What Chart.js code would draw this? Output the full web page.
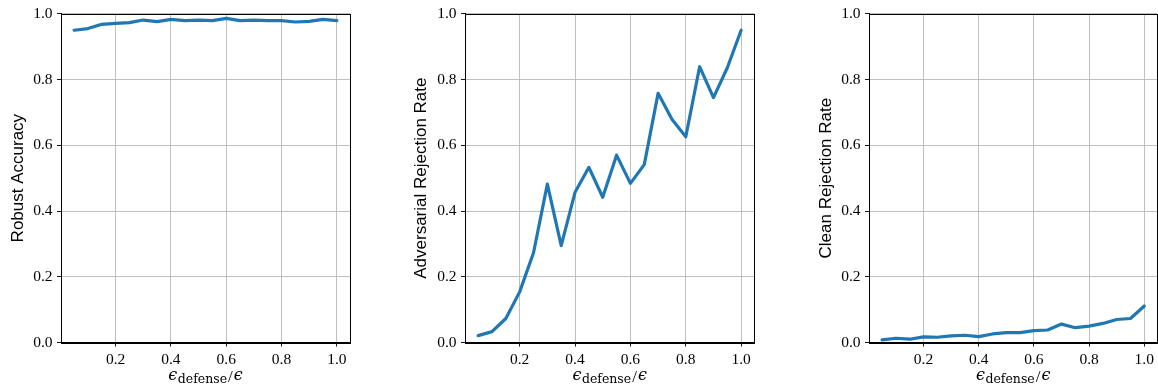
<!DOCTYPE html>
<html>
<head>
<meta charset="utf-8">
<script src="https://cdn.jsdelivr.net/npm/chart.js@4/dist/chart.umd.min.js"></script>
<style>
  html, body { margin: 0; padding: 0; background: #ffffff; }
  body { width: 1158px; height: 390px; position: relative; overflow: hidden; }
  .panel { position: absolute; top: 0; }
</style>
</head>
<body>
<div class="panel" style="left:0px"><canvas id="c1" width="360" height="390"></canvas></div>
<div class="panel" style="left:380px"><canvas id="c2" width="380" height="390"></canvas></div>
<div class="panel" style="left:780px"><canvas id="c3" width="378" height="390"></canvas></div>
<script>
// ---- data ----
const epsRatio = [0.05, 0.10, 0.15, 0.20, 0.25, 0.30, 0.35, 0.40, 0.45, 0.50,
                  0.55, 0.60, 0.65, 0.70, 0.75, 0.80, 0.85, 0.90, 0.95, 1.00];
const robustAccuracy = [0.950, 0.955, 0.968, 0.971, 0.973, 0.981, 0.976, 0.983, 0.979, 0.981,
                        0.979, 0.986, 0.979, 0.981, 0.979, 0.979, 0.975, 0.977, 0.983, 0.979];
const adversarialRejection = [0.021, 0.033, 0.073, 0.154, 0.273, 0.482, 0.295, 0.457, 0.533, 0.442,
                              0.570, 0.484, 0.541, 0.758, 0.679, 0.626, 0.839, 0.745, 0.836, 0.950];
const cleanRejection = [0.008, 0.013, 0.010, 0.017, 0.016, 0.020, 0.022, 0.018, 0.026, 0.030,
                        0.030, 0.036, 0.038, 0.056, 0.045, 0.050, 0.058, 0.070, 0.073, 0.111];
const xTickValues = [0.2, 0.4, 0.6, 0.8, 1.0];
const yTickValues = [0.0, 0.2, 0.4, 0.6, 0.8, 1.0];
const yLabels = ['Robust Accuracy', 'Adversarial Rejection Rate', 'Clean Rejection Rate'];

const LINE_COLOR = '#1f77b4';
const GRID_COLOR = '#b8b8b8';
const TICK_FONT = { family: "'Liberation Serif', 'DejaVu Serif', serif", size: 15.5 };

const boxAndLabels = {
  id: 'boxAndLabels',
  afterDraw(chart, args, opts) {
    const ctx = chart.ctx;
    const a = chart.chartArea;
    ctx.save();
    // spines
    ctx.strokeStyle = '#000000';
    ctx.lineWidth = 1;
    ctx.strokeRect(Math.round(a.left) + 0.5, Math.round(a.top) + 0.5,
                   Math.round(a.right - a.left), Math.round(a.bottom - a.top));
    // y label
    ctx.fillStyle = '#000000';
    ctx.font = "17px 'Liberation Sans', 'DejaVu Sans', sans-serif";
    ctx.textAlign = 'center';
    ctx.textBaseline = 'middle';
    ctx.translate(opts.yLabelX, (a.top + a.bottom) / 2);
    ctx.rotate(-Math.PI / 2);
    ctx.fillText(opts.yLabel, 0, 0);
    ctx.restore();

    // x label: eps_defense / eps
    ctx.save();
    ctx.fillStyle = '#000000';
    ctx.textBaseline = 'alphabetic';
    ctx.textAlign = 'left';
    const epsFont = "italic 16px 'DejaVu Serif', serif";
    const subFont = "12.5px 'DejaVu Serif', serif";
    const slashFont = "17px 'Liberation Serif', 'DejaVu Serif', serif";
    const eps = '\u03F5';
    ctx.font = epsFont; const wEps = ctx.measureText(eps).width;
    ctx.font = subFont; const wSub = ctx.measureText('defense').width;
    ctx.font = slashFont; const wSlash = ctx.measureText('/').width;
    const total = wEps + 0.5 + wSub + 1 + wSlash + 1 + wEps;
    let x = (a.left + a.right) / 2 - total / 2;
    const base = 379.5;
    ctx.font = epsFont; ctx.fillText(eps, x, base); x += wEps + 0.5;
    ctx.font = subFont; ctx.fillText('defense', x, base + 3.5); x += wSub + 1;
    ctx.font = slashFont; ctx.fillText('/', x, base + 2); x += wSlash + 1;
    ctx.font = epsFont; ctx.fillText(eps, x, base);
    ctx.restore();
  }
};

function makeChart(id, values, yLabel, yAxisWidth, rightPad, yLabelX) {
  return new Chart(document.getElementById(id), {
    type: 'line',
    data: {
      datasets: [{
        data: epsRatio.map((x, i) => ({ x: x, y: values[i] })),
        borderColor: LINE_COLOR,
        borderWidth: 3.2,
        pointRadius: 0,
        tension: 0,
        fill: false,
        borderJoinStyle: 'round',
        borderCapStyle: 'round'
      }]
    },
    options: {
      responsive: false,
      animation: false,
      events: [],
      layout: { padding: { top: 12.5, right: rightPad, bottom: 0, left: 0 } },
      plugins: {
        legend: { display: false },
        tooltip: { enabled: false },
        title: { display: false },
        boxAndLabels: { yLabel: yLabel, yLabelX: yLabelX }
      },
      scales: {
        x: {
          type: 'linear',
          min: 0.0025,
          max: 1.0475,
          afterBuildTicks: (s) => { s.ticks = xTickValues.map(v => ({ value: v })); },
          afterFit: (s) => { s.height = 47.5; },
          ticks: {
            color: '#000000',
            font: TICK_FONT,
            padding: 4,
            maxRotation: 0,
            autoSkip: false,
            callback: (v) => Number(v).toFixed(1)
          },
          grid: { color: GRID_COLOR, lineWidth: 0.9, tickColor: '#000000', tickLength: 4, drawTicks: true },
          border: { display: true, color: '#000000', width: 1 }
        },
        y: {
          type: 'linear',
          min: 0,
          max: 1,
          afterBuildTicks: (s) => { s.ticks = yTickValues.map(v => ({ value: v })); },
          afterFit: (s) => { s.width = yAxisWidth; },
          ticks: {
            color: '#000000',
            font: TICK_FONT,
            padding: 4.5,
            autoSkip: false,
            callback: (v) => Number(v).toFixed(1)
          },
          grid: { color: GRID_COLOR, lineWidth: 0.9, tickColor: '#000000', tickLength: 4, drawTicks: true },
          border: { display: true, color: '#000000', width: 1 }
        }
      }
    },
    plugins: [boxAndLabels]
  });
}

makeChart('c1', robustAccuracy, yLabels[0], 61, 10, 18);
makeChart('c2', adversarialRejection, yLabels[1], 85, 5.7, 41.7);
makeChart('c3', cleanRejection, yLabels[2], 89, 0.3, 46);
</script>
</body>
</html>
